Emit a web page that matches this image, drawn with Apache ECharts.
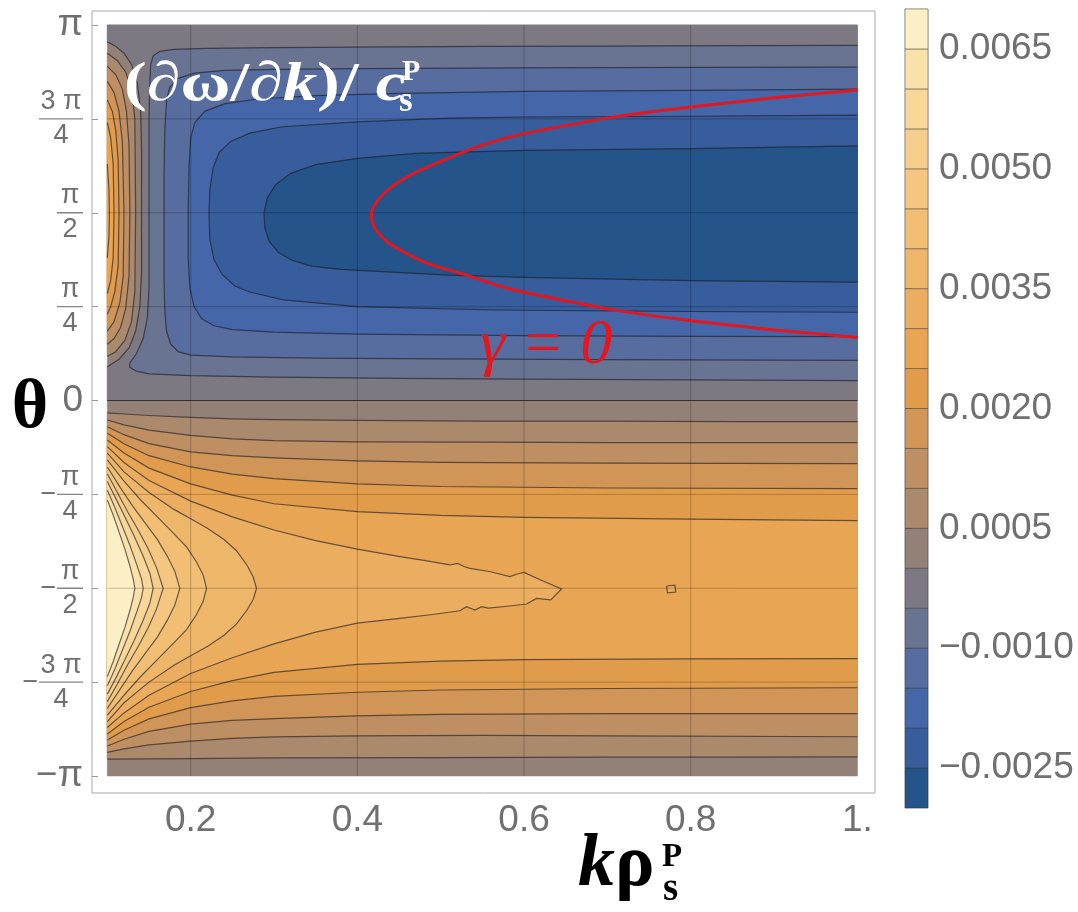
<!DOCTYPE html>
<html>
<head>
<meta charset="utf-8">
<title>group velocity contours</title>
<script src="https://cdn.jsdelivr.net/npm/echarts@6/dist/echarts.min.js"></script>
<style>
html, body { margin: 0; padding: 0; background: #fff; }
#chart { width: 1078px; height: 912px; }
</style>
</head>
<body>
<div id="chart"></div>
<script>
// theta is kept in units of pi, k in units of 1/rho_s
var levels = [-0.0025, -0.002, -0.0015, -0.001, -0.0005, 0, 0.0005, 0.001, 0.0015, 0.002,
              0.0025, 0.003, 0.0035, 0.004, 0.0045, 0.005, 0.0055, 0.006, 0.0065];
var barMin = -0.003, barMax = 0.007, bandStep = 0.0005;
var bandColors = ['#24548a', '#385d9c', '#4566a8', '#576da0', '#697492', '#7d7982',
                  '#938177', '#aa896d', '#bd8f63', '#d09557', '#e09c4a', '#e8a553',
                  '#ebad5f', '#eeb669', '#f1be74', '#f4c680', '#f6ce8c', '#f8d799',
                  '#fae1a9', '#fcefc6'];
var kTicks = [0.2, 0.4, 0.6, 0.8, 1.0];
var thetaTicks = [-1, -0.75, -0.5, -0.25, 0, 0.25, 0.5, 0.75, 1];
var thetaTickText = ['\u2212\u03c0', '\u22123\u03c0/4', '\u2212\u03c0/2', '\u2212\u03c0/4', '0',
                     '\u03c0/4', '\u03c0/2', '3\u03c0/4', '\u03c0'];
var barTicks = [0.0065, 0.005, 0.0035, 0.002, 0.0005, -0.001, -0.0025];

// upper half: negative contours, C shapes open to the right
var cM05 = [[1.0,0.946],[0.85,0.945],[0.7,0.944],[0.55,0.943],[0.4,0.941],[0.3,0.94],[0.22,0.938],[0.18,0.935],[0.163,0.93],[0.155,0.918],[0.152,0.895],[0.151,0.85],[0.150,0.75],[0.150,0.6],[0.150,0.45],[0.150,0.3],[0.148,0.22],[0.143,0.165],[0.135,0.125],[0.127,0.1],[0.127,0.088],[0.135,0.078],[0.15,0.071],[0.2,0.066],[0.3,0.062],[0.45,0.059],[0.6,0.057],[0.8,0.055],[1.0,0.053]];
var cM10 = [[1.0,0.888],[0.8,0.887],[0.6,0.886],[0.4,0.884],[0.3,0.882],[0.24,0.879],[0.205,0.872],[0.185,0.858],[0.175,0.835],[0.171,0.8],[0.169,0.72],[0.168,0.6],[0.168,0.45],[0.168,0.32],[0.169,0.24],[0.171,0.185],[0.176,0.15],[0.185,0.13],[0.2,0.121],[0.25,0.116],[0.35,0.113],[0.5,0.111],[0.7,0.109],[1.0,0.107]];
var cM15 = [[1.0,0.829],[0.8,0.826],[0.6,0.823],[0.45,0.818],[0.35,0.812],[0.28,0.803],[0.24,0.79],[0.217,0.77],[0.205,0.74],[0.2,0.7],[0.198,0.62],[0.197,0.5],[0.197,0.38],[0.199,0.3],[0.204,0.25],[0.213,0.218],[0.228,0.199],[0.25,0.189],[0.3,0.182],[0.4,0.177],[0.6,0.173],[0.8,0.171],[1.0,0.170]];
var cM20 = [[1.0,0.760],[0.8,0.757],[0.6,0.755],[0.51,0.752],[0.4,0.742],[0.31,0.729],[0.271,0.712],[0.248,0.69],[0.234,0.66],[0.227,0.62],[0.223,0.56],[0.222,0.5],[0.223,0.43],[0.228,0.375],[0.238,0.335],[0.253,0.305],[0.271,0.289],[0.311,0.268],[0.4,0.25],[0.567,0.241],[0.8,0.237],[1.0,0.235]];
var cM25 = [[1.0,0.678],[0.8,0.671],[0.6,0.666],[0.47,0.658],[0.4,0.645],[0.35,0.628],[0.32,0.605],[0.302,0.575],[0.292,0.54],[0.288,0.5],[0.289,0.46],[0.294,0.425],[0.305,0.395],[0.322,0.373],[0.345,0.358],[0.38,0.349],[0.43,0.343],[0.51,0.334],[0.6,0.328],[0.8,0.319],[1.0,0.315]];

// upper half near k = 0.1: zero and positive contours, open to the left
var cU00 = [[0.1,0.955],[0.109,0.945],[0.12,0.925],[0.129,0.895],[0.136,0.845],[0.14,0.77],[0.141,0.67],[0.141,0.5],[0.141,0.34],[0.139,0.25],[0.134,0.185],[0.126,0.14],[0.114,0.11],[0.1,0.09]];
var cU05 = [[0.1,0.925],[0.112,0.905],[0.122,0.875],[0.129,0.83],[0.133,0.75],[0.134,0.5],[0.133,0.29],[0.129,0.21],[0.121,0.16],[0.11,0.13],[0.1,0.118]];
var cU10 = [[0.1,0.89],[0.11,0.868],[0.118,0.83],[0.123,0.77],[0.126,0.68],[0.127,0.5],[0.126,0.33],[0.122,0.245],[0.116,0.195],[0.108,0.165],[0.1,0.15]];
var cU15 = [[0.1,0.85],[0.108,0.82],[0.114,0.77],[0.118,0.69],[0.12,0.5],[0.119,0.33],[0.115,0.26],[0.108,0.21],[0.1,0.185]];
var cU20 = [[0.1,0.8],[0.106,0.77],[0.11,0.72],[0.113,0.64],[0.114,0.5],[0.113,0.36],[0.109,0.29],[0.104,0.25],[0.1,0.23]];
var cU25 = [[0.1,0.74],[0.104,0.7],[0.107,0.63],[0.108,0.5],[0.107,0.38],[0.104,0.32],[0.1,0.285]];
var cU30 = [[0.1,0.63],[0.102,0.56],[0.1025,0.5],[0.102,0.44],[0.1,0.38]];

// lower half: full-width contours, upper (a) and lower (b) branches
var L05a = [[0.1,-0.033],[0.12,-0.036],[0.15,-0.04],[0.2,-0.045],[0.25,-0.049],[0.3,-0.051],[0.4,-0.053],[0.55,-0.055],[0.7,-0.055],[0.85,-0.056],[1.0,-0.056]];
var L05b = [[0.1,-0.955],[0.2,-0.954],[0.3,-0.952],[0.5,-0.951],[0.7,-0.95],[0.85,-0.95],[1.0,-0.949]];
var L10a = [[0.1,-0.052],[0.12,-0.065],[0.15,-0.079],[0.2,-0.093],[0.25,-0.102],[0.3,-0.107],[0.4,-0.11],[0.55,-0.111],[0.7,-0.112],[1.0,-0.112]];
var L10b = [[0.1,-0.937],[0.12,-0.928],[0.15,-0.917],[0.2,-0.907],[0.25,-0.9],[0.3,-0.896],[0.4,-0.893],[0.55,-0.892],[0.7,-0.893],[1.0,-0.8955]];
var L15a = [[0.1,-0.07],[0.12,-0.091],[0.15,-0.115],[0.2,-0.137],[0.25,-0.147],[0.3,-0.153],[0.4,-0.161],[0.5,-0.165],[0.7,-0.167],[1.0,-0.168]];
var L15b = [[0.1,-0.92],[0.12,-0.902],[0.15,-0.881],[0.2,-0.862],[0.25,-0.852],[0.3,-0.847],[0.4,-0.84],[0.5,-0.836],[0.7,-0.834],[1.0,-0.834]];
var L20a = [[0.1,-0.087],[0.12,-0.115],[0.15,-0.147],[0.2,-0.177],[0.25,-0.196],[0.3,-0.208],[0.4,-0.222],[0.5,-0.229],[0.7,-0.233],[1.0,-0.2345]];
var L20b = [[0.1,-0.904],[0.12,-0.878],[0.15,-0.848],[0.2,-0.818],[0.25,-0.8],[0.3,-0.788],[0.4,-0.777],[0.5,-0.771],[0.7,-0.767],[1.0,-0.765]];
var L25a = [[0.1,-0.105],[0.12,-0.14],[0.15,-0.18],[0.2,-0.222],[0.25,-0.252],[0.3,-0.275],[0.4,-0.296],[0.5,-0.306],[0.6,-0.311],[0.8,-0.316],[1.0,-0.32]];
var L25b = [[0.1,-0.888],[0.12,-0.855],[0.15,-0.817],[0.2,-0.775],[0.25,-0.746],[0.3,-0.724],[0.4,-0.703],[0.5,-0.694],[0.6,-0.69],[0.8,-0.688],[1.0,-0.6876]];

// lower half: tongues around theta = -pi/2, from left edge to tip and back
var L30 = [[0.1,-0.123],[0.12,-0.165],[0.15,-0.213],[0.2,-0.268],[0.25,-0.31],[0.3,-0.345],[0.35,-0.373],[0.4,-0.396],[0.451,-0.416],[0.48,-0.426],[0.511,-0.438],[0.52,-0.434],[0.528,-0.442],[0.535,-0.447],[0.56,-0.456],[0.583,-0.469],[0.592,-0.462],[0.6,-0.458],[0.62,-0.478],[0.645,-0.502],
           [0.632,-0.531],[0.615,-0.527],[0.603,-0.542],[0.58,-0.548],[0.557,-0.553],[0.549,-0.549],[0.541,-0.558],[0.531,-0.549],[0.523,-0.56],[0.49,-0.57],[0.451,-0.58],[0.4,-0.593],[0.35,-0.617],[0.3,-0.648],[0.25,-0.685],[0.2,-0.727],[0.15,-0.785],[0.12,-0.832],[0.1,-0.871]];
var L35 = [[0.1,-0.14],[0.12,-0.19],[0.15,-0.245],[0.18,-0.29],[0.2,-0.315],[0.22,-0.34],[0.24,-0.37],[0.255,-0.4],[0.268,-0.44],[0.275,-0.47],[0.279,-0.5],[0.275,-0.53],[0.267,-0.56],[0.255,-0.595],[0.24,-0.625],[0.22,-0.655],[0.2,-0.68],[0.18,-0.705],[0.15,-0.75],[0.12,-0.805],[0.1,-0.855]];
var L40 = [[0.1,-0.158],[0.12,-0.215],[0.14,-0.265],[0.16,-0.31],[0.18,-0.355],[0.195,-0.39],[0.207,-0.43],[0.215,-0.465],[0.219,-0.5],[0.215,-0.535],[0.207,-0.57],[0.195,-0.61],[0.18,-0.645],[0.16,-0.69],[0.14,-0.735],[0.12,-0.785],[0.1,-0.838]];
var L45 = [[0.1,-0.177],[0.115,-0.23],[0.13,-0.28],[0.145,-0.325],[0.16,-0.37],[0.172,-0.415],[0.181,-0.455],[0.187,-0.5],[0.181,-0.545],[0.172,-0.585],[0.16,-0.63],[0.145,-0.675],[0.13,-0.72],[0.115,-0.77],[0.1,-0.82]];
var L50 = [[0.1,-0.195],[0.112,-0.245],[0.124,-0.295],[0.137,-0.345],[0.149,-0.395],[0.159,-0.445],[0.167,-0.5],[0.159,-0.555],[0.149,-0.605],[0.137,-0.655],[0.124,-0.705],[0.112,-0.755],[0.1,-0.802]];
var L55 = [[0.1,-0.216],[0.11,-0.26],[0.12,-0.305],[0.132,-0.36],[0.143,-0.415],[0.151,-0.46],[0.155,-0.5],[0.151,-0.54],[0.143,-0.585],[0.132,-0.64],[0.12,-0.695],[0.11,-0.74],[0.1,-0.782]];
var L60 = [[0.1,-0.239],[0.109,-0.285],[0.118,-0.335],[0.127,-0.385],[0.135,-0.435],[0.141,-0.475],[0.143,-0.5],[0.141,-0.525],[0.135,-0.565],[0.127,-0.615],[0.118,-0.665],[0.109,-0.715],[0.1,-0.76]];
var L65 = [[0.1,-0.265],[0.107,-0.305],[0.114,-0.35],[0.121,-0.395],[0.127,-0.44],[0.131,-0.475],[0.133,-0.5],[0.131,-0.525],[0.127,-0.56],[0.121,-0.605],[0.114,-0.65],[0.107,-0.695],[0.1,-0.735]];
var dot30 = [[0.771,-0.494],[0.781,-0.492],[0.782,-0.51],[0.772,-0.512],[0.771,-0.494]];
var zeroLine = [[0.1,0],[1.0,0]];

// gamma = 0 curve
var gammaZero = [[1.0,0.827],[0.9,0.806],[0.803,0.782],[0.711,0.756],[0.603,0.712],[0.567,0.692],[0.531,0.665],[0.491,0.628],[0.465,0.602],[0.447,0.578],[0.432,0.552],[0.422,0.525],[0.417,0.5],[0.418,0.475],[0.424,0.449],[0.436,0.422],[0.452,0.4],[0.471,0.378],[0.491,0.36],[0.531,0.334],[0.567,0.307],[0.603,0.287],[0.711,0.24],[0.803,0.212],[0.9,0.188],[1.0,0.168]];

// filled regions, painted from the outside in (band = colour index)
function strip(a, b) { return a.concat(b.slice().reverse()); }
var fills = [
  { pts: [[0.1,1],[1,1],[1,-1],[0.1,-1]], band: 6 },
  { pts: [[0.1,1],[1,1],[1,0],[0.1,0]].concat(cU00.slice().reverse()), band: 5 },
  { pts: cM05, band: 4 }, { pts: cM10, band: 3 }, { pts: cM15, band: 2 },
  { pts: cM20, band: 1 }, { pts: cM25, band: 0 },
  { pts: cU05, band: 7 }, { pts: strip(L05a, L05b), band: 7 },
  { pts: cU10, band: 8 }, { pts: strip(L10a, L10b), band: 8 },
  { pts: cU15, band: 9 }, { pts: strip(L15a, L15b), band: 9 },
  { pts: cU20, band: 10 }, { pts: strip(L20a, L20b), band: 10 },
  { pts: cU25, band: 11 }, { pts: strip(L25a, L25b), band: 11 },
  { pts: cU30, band: 12 }, { pts: L30, band: 12 }, { pts: dot30, band: 12 },
  { pts: L35, band: 13 }, { pts: L40, band: 14 }, { pts: L45, band: 15 },
  { pts: L50, band: 16 }, { pts: L55, band: 17 }, { pts: L60, band: 18 }, { pts: L65, band: 19 }
];
var strokes = [cM05, cM10, cM15, cM20, cM25, cU00, cU05, cU10, cU15, cU20, cU25, cU30,
               L05a, L05b, L10a, L10b, L15a, L15b, L20a, L20b, L25a, L25b,
               L30, L35, L40, L45, L50, L55, L60, L65, dot30, zeroLine];
var gridSegs = [];
kTicks.forEach(function (k) { if (k < 1) gridSegs.push([[k, -1], [k, 1]]); });
thetaTicks.forEach(function (t) { if (Math.abs(t) < 1) gridSegs.push([[0.1, t], [1, t]]); });

function dummy(list) { return list.map(function () { return [0.5, 0]; }); }

var grey = '#707070';
var sans = 'Liberation Sans';
var serif = 'Liberation Serif';

function thetaLabel(v) {
  var i = thetaTicks.findIndex(function (t) { return Math.abs(t - v) < 1e-6; });
  var s = thetaTickText[i];
  if (s.indexOf('/') < 0) return '{big|' + s + '}';
  var neg = s.charAt(0) === '\u2212';
  if (neg) s = s.slice(1);
  var parts = s.split('/');
  var wide = parts[0].length > 1;
  var num = wide ? parts[0].replace('\u03c0', ' \u03c0') : parts[0];
  var w = wide ? '3' : '1';
  return (neg ? '{sp|}' : '') + '{n' + w + '|' + num + '}\n' +
         (neg ? '{mi|\u2212}' : '') + '{b' + w + '|}\n' +
         (neg ? '{sp|}' : '') + '{d' + w + '|' + parts[1] + '}';
}

var fracFont = { fontSize: 27, fontFamily: sans, color: grey, align: 'center', lineHeight: 26 };
function fracStyle(extra) { return Object.assign({}, fracFont, extra); }

var chart = echarts.init(document.getElementById('chart'));
chart.setOption({
  animation: false,
  backgroundColor: '#fff',
  grid: [
    { left: 92, top: 11, width: 783, height: 782, show: true, borderColor: '#a8a8a8', borderWidth: 1, outerBoundsMode: 'none' },
    { left: 905, top: 9, width: 23, height: 799, show: true, borderColor: '#c4c4c4', borderWidth: 1, outerBoundsMode: 'none' }
  ],
  xAxis: [
    { type: 'value', gridIndex: 0, min: 0.0816, max: 1.0211,
      axisLine: { show: false }, splitLine: { show: false },
      axisTick: { show: true, inside: true, length: 6, customValues: kTicks, lineStyle: { color: '#999' } },
      axisLabel: { customValues: kTicks, color: grey, fontFamily: sans, fontSize: 37, margin: 9,
        formatter: function (v) { return Math.abs(v - 1) < 1e-9 ? '1.' : v.toFixed(1); } } },
    { type: 'value', gridIndex: 1, min: 0, max: 1, show: false }
  ],
  yAxis: [
    { type: 'value', gridIndex: 0, min: -1.0453, max: 1.0373,
      axisLine: { show: false }, splitLine: { show: false },
      axisTick: { show: true, inside: true, length: 6, customValues: thetaTicks, lineStyle: { color: '#999' } },
      axisLabel: { customValues: thetaTicks, color: grey, fontFamily: sans, margin: 9,
        formatter: thetaLabel,
        rich: {
          big: { fontSize: 37, fontFamily: sans, color: grey },
          n1: fracStyle({ width: 26 }), d1: fracStyle({ width: 26 }),
          n3: fracStyle({ width: 44 }), d3: fracStyle({ width: 44 }),
          b1: { width: 26, height: 0, borderColor: '#858585', borderWidth: 1.3, align: 'center', lineHeight: 8 },
          b3: { width: 44, height: 0, borderColor: '#858585', borderWidth: 1.3, align: 'center', lineHeight: 8 },
          mi: { fontSize: 27, fontFamily: sans, color: grey, width: 17, align: 'center', lineHeight: 8 },
          sp: { width: 17, align: 'center', lineHeight: 26 }
        } } },
    { type: 'value', gridIndex: 1, min: barMin, max: barMax, position: 'right',
      axisLine: { show: false }, splitLine: { show: false },
      axisTick: { show: true, length: 7, customValues: barTicks, lineStyle: { color: '#888' } },
      axisLabel: { customValues: barTicks, color: grey, fontFamily: sans, fontSize: 37, margin: 11,
        formatter: function (v) { return (v < 0 ? '\u2212' : '') + Math.abs(v).toFixed(4); } } }
  ],
  series: [
    { type: 'custom', name: 'bands', xAxisIndex: 0, yAxisIndex: 0, silent: true, z: 1,
      data: dummy(fills),
      renderItem: function (params, api) {
        var f = fills[params.dataIndex];
        var pts = f.pts.map(function (p) { return api.coord(p); });
        var c = bandColors[f.band];
        return { type: 'polygon', shape: { points: pts }, style: { fill: c, stroke: c, lineWidth: 0.6 } };
      } },
    { type: 'custom', name: 'contours', xAxisIndex: 0, yAxisIndex: 0, silent: true, z: 2,
      data: dummy(strokes),
      renderItem: function (params, api) {
        var pts = strokes[params.dataIndex].map(function (p) { return api.coord(p); });
        return { type: 'polyline', shape: { points: pts }, style: { fill: 'none', stroke: 'rgba(34,32,40,0.66)', lineWidth: 1.2 } };
      } },
    { type: 'custom', name: 'gridlines', xAxisIndex: 0, yAxisIndex: 0, silent: true, z: 3,
      data: dummy(gridSegs),
      renderItem: function (params, api) {
        var pts = gridSegs[params.dataIndex].map(function (p) { return api.coord(p); });
        return { type: 'polyline', shape: { points: pts }, style: { fill: 'none', stroke: 'rgba(0,0,0,0.22)', lineWidth: 1 } };
      } },
    { type: 'line', name: 'gamma0', xAxisIndex: 0, yAxisIndex: 0, z: 4, silent: true,
      data: gammaZero, showSymbol: false, smooth: 0.2,
      lineStyle: { color: '#e4171f', width: 3 } },
    { type: 'custom', name: 'colorbar', xAxisIndex: 1, yAxisIndex: 1, silent: true,
      data: bandColors.map(function (c, i) { return [0.5, barMin + bandStep * (i + 0.5)]; }),
      renderItem: function (params, api) {
        var i = params.dataIndex;
        var lo = barMin + bandStep * i, hi = lo + bandStep;
        var a = api.coord([0, hi]), b = api.coord([1, lo]);
        return { type: 'rect', shape: { x: a[0], y: a[1], width: b[0] - a[0], height: b[1] - a[1] },
                 style: { fill: bandColors[i], stroke: 'rgba(45,45,45,0.55)', lineWidth: 0.8 } };
      } }
  ],
  graphic: [
    { type: 'text', x: 124, y: 86, scaleX: 1.24, z: 10,
      style: { text: '{a|(\u2202\u03c9/\u2202}{b|k}{a|)/ }{b|c}', align: 'left', verticalAlign: 'middle',
        rich: { a: { fontFamily: serif, fontWeight: 'bold', fontSize: 55, fill: '#fff' },
                b: { fontFamily: serif, fontWeight: 'bold', fontStyle: 'italic', fontSize: 55, fill: '#fff' } } } },
    { type: 'text', x: 402, y: 72, z: 10,
      style: { text: 'P', fontFamily: serif, fontWeight: 'bold', fontSize: 30, fill: '#fff', align: 'left', verticalAlign: 'middle' } },
    { type: 'text', x: 399, y: 102, z: 10,
      style: { text: 's', fontFamily: serif, fontWeight: 'bold', fontSize: 35, fill: '#fff', align: 'left', verticalAlign: 'middle' } },
    { type: 'text', x: 546, y: 346, z: 10,
      style: { text: '\u03b3 = 0', fontFamily: serif, fontStyle: 'italic', fontSize: 64, fill: '#e4171f', align: 'center', verticalAlign: 'middle' } },
    { type: 'text', x: 30, y: 409, z: 10,
      style: { text: '\u03b8', fontFamily: serif, fontWeight: 'bold', fontSize: 70, fill: '#000', align: 'center', verticalAlign: 'middle' } },
    { type: 'text', x: 578, y: 866, z: 10,
      style: { text: '{k|k}{r|\u03c1}', align: 'left', verticalAlign: 'middle',
        rich: { k: { fontFamily: serif, fontWeight: 'bold', fontStyle: 'italic', fontSize: 74, fill: '#000' },
                r: { fontFamily: serif, fontWeight: 'bold', fontSize: 74, fill: '#000' } } } },
    { type: 'text', x: 662, y: 857, z: 10,
      style: { text: 'P', fontFamily: serif, fontWeight: 'bold', fontSize: 33, fill: '#000', align: 'left', verticalAlign: 'middle' } },
    { type: 'text', x: 663, y: 890, z: 10,
      style: { text: 's', fontFamily: serif, fontWeight: 'bold', fontSize: 39, fill: '#000', align: 'left', verticalAlign: 'middle' } }
  ]
});
</script>
</body>
</html>
